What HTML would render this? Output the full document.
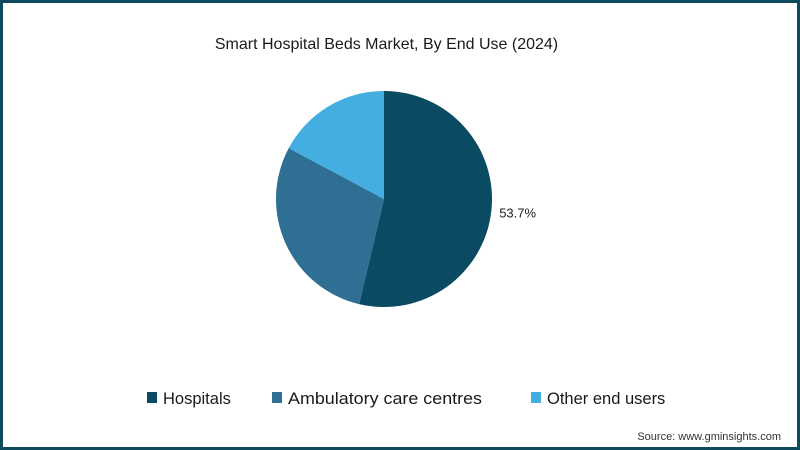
<!DOCTYPE html>
<html><head><meta charset="utf-8"><style>
body{margin:0;}
#frame{position:relative;width:800px;height:450px;box-sizing:border-box;border:3px solid #0d4a5e;background:#fff;font-family:"Liberation Sans",sans-serif;overflow:hidden}
.t{position:absolute;white-space:nowrap;color:#1a1a1a}
</style></head><body>
<div id="frame">
<div class="t" style="left:0;width:767px;text-align:center;top:33px;font-size:16px;">Smart Hospital Beds Market, By End Use (2024)</div>
<svg id="pie" width="800" height="450" style="position:absolute;left:-3px;top:-3px"></svg>
<div class="t" style="right:16px;top:428px;font-size:11px;color:#333">Source: www.gminsights.com</div>
</div>
<script>
const categories=["Hospitals","Ambulatory care centres","Other end users"];
const values=[53.7,29.1,17.2];
const colors=["#0a4a63","#2e6f93","#45aee0"];
const labels=["53.7%",null,null];
const svg=document.getElementById('pie');
const NS="http://www.w3.org/2000/svg";
const cx=384,cy=199,r=108;
const total=values.reduce((a,b)=>a+b,0);
let a0=0;
values.forEach((v,i)=>{
  const a1=a0+v/total*2*Math.PI;
  const x0=cx+r*Math.sin(a0),y0=cy-r*Math.cos(a0),x1=cx+r*Math.sin(a1),y1=cy-r*Math.cos(a1);
  const p=document.createElementNS(NS,'path');
  p.setAttribute('d',`M${cx},${cy}L${x0},${y0}A${r},${r} 0 ${a1-a0>Math.PI?1:0} 1 ${x1},${y1}Z`);
  p.setAttribute('fill',colors[i]);
  
  
  svg.appendChild(p);
  if(labels[i]){
    const m=(a0+a1)/2;
    const t=document.createElementNS(NS,'text');
    t.setAttribute('x',cx+(r+8)*Math.sin(m));
    t.setAttribute('y',cy-(r+8)*Math.cos(m)+5);
    t.setAttribute('font-size','13');
    t.setAttribute('fill','#222');
    t.setAttribute('font-family','Liberation Sans, sans-serif');
    t.textContent=labels[i];
    
    
    svg.appendChild(t);
  }
  a0=a1;
});
const lx=[147,272,531];
const lw=[70,194,118];
categories.forEach((c,i)=>{
  const rc=document.createElementNS(NS,'rect');
  rc.setAttribute('x',lx[i]);rc.setAttribute('y',392);rc.setAttribute('width',10);rc.setAttribute('height',11);
  rc.setAttribute('fill',colors[i]);
  
  
  svg.appendChild(rc);
  const t=document.createElementNS(NS,'text');
  t.setAttribute('x',lx[i]+16);t.setAttribute('y',404);
  t.setAttribute('font-size','16.5');t.setAttribute('fill','#1a1a1a');
  t.setAttribute('font-family','Liberation Sans, sans-serif');
  if(i===1){t.setAttribute('textLength',lw[i]);t.setAttribute('lengthAdjust','spacingAndGlyphs');}
  t.textContent=c;
  
  
  svg.appendChild(t);
});
</script>
</body></html>
